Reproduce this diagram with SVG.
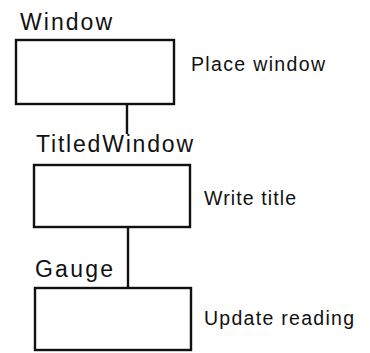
<svg xmlns="http://www.w3.org/2000/svg" width="370" height="353" viewBox="0 0 370 353">
<style>
.box{fill:#fff;stroke:#111;stroke-width:2.4}
.conn{stroke:#111;stroke-width:2.4;fill:none}
.title{font-family:"Liberation Sans",Arial,sans-serif;font-size:23px;fill:#111}
.lbl{font-family:"Liberation Sans",Arial,sans-serif;font-size:19.5px;fill:#111}
</style>
<rect width="370" height="353" fill="#fff"/>
<g id="connectors">
<line class="conn" x1="127" y1="104" x2="127" y2="134"/>
<line class="conn" x1="128" y1="227" x2="128" y2="288"/>
</g>
<g id="Window">
<text class="title" x="20" y="30" textLength="92" lengthAdjust="spacing">Window</text>
<rect class="box" x="16" y="40" width="158" height="64"/>
<text class="lbl" x="191" y="71" textLength="134" lengthAdjust="spacing">Place window</text>
</g>
<g id="TitledWindow">
<text class="title" x="36" y="152" textLength="157" lengthAdjust="spacing">TitledWindow</text>
<rect class="box" x="34" y="165" width="156" height="62"/>
<text class="lbl" x="204" y="205" textLength="92" lengthAdjust="spacing">Write title</text>
</g>
<g id="Gauge">
<text class="title" x="35" y="277" textLength="78" lengthAdjust="spacing">Gauge</text>
<rect class="box" x="35" y="288" width="156" height="62"/>
<text class="lbl" x="204" y="325" textLength="150" lengthAdjust="spacing">Update reading</text>
</g>
</svg>
